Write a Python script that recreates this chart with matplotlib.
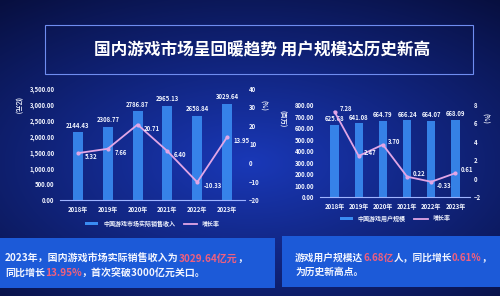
import numpy as np
import matplotlib.pyplot as plt
from matplotlib.patches import Rectangle
from matplotlib.lines import Line2D

plt.rcParams['font.family'] = ['Noto Sans CJK SC', 'DejaVu Sans']

years = ['2018年', '2019年', '2020年', '2021年', '2022年', '2023年']
revenue = [2144.43, 2308.77, 2786.87, 2965.13, 2658.84, 3029.64]
revenue_growth = [5.32, 7.66, 20.71, 6.40, -10.33, 13.95]
users = [625.68, 641.08, 664.79, 666.24, 664.07, 668.09]
users_growth = [7.28, 2.47, 3.70, 0.22, -0.33, 0.61]

title = '国内游戏市场呈回暖趋势 用户规模达历史新高'

bar_c = '#3a8cf2'
line_c = '#e2a6e6'
txt_c = '#f2f5ff'
hi_c = '#f0607e'

fig = plt.figure(figsize=(5, 2.96), dpi=100)

# dark blue backdrop
bg = fig.add_axes([0, 0, 1, 1], zorder=-5)
yy, xx = np.mgrid[0:1:200j, 0:1:300j]
r = np.sqrt(((xx - 0.5) / 0.8) ** 2 + ((yy - 0.55) / 0.7) ** 2)
img = np.clip(1 - r, 0, 1)
c0 = np.array([0.03, 0.06, 0.25])
c1 = np.array([0.10, 0.22, 0.72])
rgb = c0 + (c1 - c0) * img[..., None]
bg.imshow(rgb, extent=[0, 1, 0, 1], aspect='auto', origin='upper')
bg.set_xlim(0, 1)
bg.set_ylim(0, 1)
bg.axis('off')

# title frame
bg.add_patch(Rectangle((0.09, 0.75), 0.855, 0.165, fill=False,
                       ec='#6f8df0', lw=0.8))
bg.text(0.525, 0.83, title, color='white', fontsize=12, fontweight='bold',
        ha='center', va='center')

# bottom info boxes
bg.add_patch(Rectangle((0.0, 0.027), 0.55, 0.17, fc='#1c5ad8', ec='none'))
bg.add_patch(Rectangle((0.564, 0.03), 0.436, 0.172, fc='#1c5ad8', ec='none'))


def rich_line(x, y, parts, size):
    t = None
    for s, c in parts:
        if t is None:
            t = bg.text(x, y, s, color=c, fontsize=size, fontweight='bold',
                        va='center', ha='left')
        else:
            t = bg.annotate(s, xycoords=t, xy=(1, 0), va='bottom', ha='left',
                            color=c, fontsize=size, fontweight='bold')


rich_line(0.01, 0.125, [('2023年，国内游戏市场实际销售收入为', txt_c),
                        ('3029.64亿元', hi_c), ('，', txt_c)], 7.2)
rich_line(0.01, 0.078, [('同比增长', txt_c), ('13.95%', hi_c),
                        ('，首次突破3000亿元关口。', txt_c)], 7.2)
rich_line(0.59, 0.13, [('游戏用户规模达', txt_c), ('6.68亿', hi_c),
                       ('人，同比增长', txt_c), ('0.61%', hi_c), ('，', txt_c)], 7)
rich_line(0.59, 0.083, [('为历史新高点。', txt_c)], 7)


def dual_chart(rect, vals, growth, ylim, yticks, glim, gticks, unit_l,
               bar_name, unit_x, lab_va):
    ax = fig.add_axes(rect)
    ax.patch.set_alpha(0)
    x = np.arange(len(years))
    ax.bar(x, vals, width=0.34, color=bar_c, alpha=0.9, zorder=2)
    for xi, v in zip(x, vals):
        ax.text(xi, v + (ylim[1] - ylim[0]) * 0.03, f'{v:.2f}', color=txt_c,
                fontsize=4.3, fontweight='bold', ha='center', va='bottom')
    ax.set_ylim(*ylim)
    ax.set_yticks(yticks)
    ax.set_yticklabels([f'{t:,.2f}' for t in yticks])
    ax.set_xlim(-0.6, 5.6)
    ax.set_xticks(x)
    ax.set_xticklabels(years)
    ax.tick_params(colors=txt_c, labelsize=4.3, length=0, pad=4)
    for lab in ax.get_xticklabels() + ax.get_yticklabels():
        lab.set_fontweight('bold')
    for s in ['top', 'right', 'left']:
        ax.spines[s].set_visible(False)
    ax.spines['bottom'].set_color('#9fb4ff')
    ax.spines['bottom'].set_linewidth(0.8)
    ax.text(unit_x, 0.85, unit_l, transform=ax.transAxes, color=txt_c,
            fontsize=4.5, rotation=270, ha='center', va='center',
            fontweight='bold')

    ax2 = ax.twinx()
    ax2.plot(x, growth, color=line_c, lw=1.3, marker='o', ms=2, zorder=3)
    for xi, g, va in zip(x, growth, lab_va):
        ax2.text(xi + 0.22, g, f'{g:.2f}', color=txt_c, fontsize=4.3,
                 fontweight='bold', ha='left', va=va)
    ax2.set_ylim(*glim)
    ax2.set_yticks(gticks)
    ax2.tick_params(colors=txt_c, labelsize=4.3, length=0, pad=3)
    for lab in ax2.get_yticklabels():
        lab.set_fontweight('bold')
    for s in ax2.spines.values():
        s.set_visible(False)
    ax2.text(1.1, 0.85, '(%)', transform=ax2.transAxes, color=txt_c,
             fontsize=4.5, rotation=270, ha='center', va='center',
             fontweight='bold')

    handles = [Rectangle((0, 0), 1, 1, fc=bar_c),
               Line2D([], [], color=line_c, lw=1.3)]
    leg = ax.legend(handles, [bar_name, '增长率'], loc='upper center',
                    bbox_to_anchor=(0.5, -0.13), ncol=2, frameon=False,
                    fontsize=4.3, handlelength=2.2, handleheight=0.4,
                    columnspacing=1.5)
    for t in leg.get_texts():
        t.set_color(txt_c)
        t.set_fontweight('bold')
    return ax, ax2


dual_chart([0.12, 0.324, 0.37, 0.376], revenue, revenue_growth,
           (0, 3500), np.arange(0, 3501, 500), (-20, 40),
           np.arange(-20, 41, 10), '(亿元)', '中国游戏市场实际销售收入',
           -0.23, ['top'] * 6)
dual_chart([0.64, 0.334, 0.30, 0.311], users, users_growth,
           (0, 800), np.arange(0, 801, 100), (-2, 8),
           np.arange(-2, 9, 2), '(百万)', '中国游戏用户规模',
           -0.25, ['bottom', 'bottom', 'bottom', 'bottom', 'top', 'bottom'])

fig.savefig('out.png', dpi=100)
